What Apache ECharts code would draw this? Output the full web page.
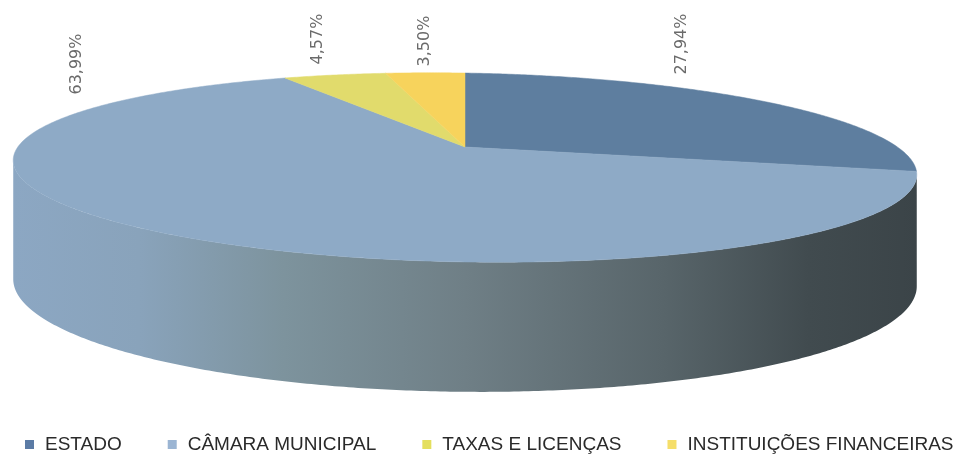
<!DOCTYPE html>
<html>
<head>
<meta charset="utf-8">
<script src="https://cdn.jsdelivr.net/npm/echarts@6/dist/echarts.min.js"></script>
<style>
  html, body { margin: 0; padding: 0; background: #fff; }
  #chart { width: 954px; height: 463px; }
</style>
</head>
<body>
<div id="chart"></div>
<script>
// slices, clockwise from 12 o'clock
const categories = ['ESTADO', 'CÂMARA MUNICIPAL', 'TAXAS E LICENÇAS', 'INSTITUIÇÕES FINANCEIRAS'];
const shares = [27.94, 63.99, 4.57, 3.50];

// colours of the top faces and of the legend keys
const topColors = ['#5e7e9f', '#8eaac6', '#e1db6c', '#f7d35c'];
const keyColors = ['#5b7ba5', '#9bb5d3', '#e4df5e', '#f5de6a'];

// where the rotated value labels sit (centre of the text)
const labelCenters = [[682, 44], [77, 64], [318, 39], [425, 41]];

// fake 3d pie: a circle put through a simple perspective
const pie = {
    cx: 465, cy: 147, rx: 441, ry: 90, persp: 0.217, roll: 7,
    bottomCy: 259, bottomRy: 104, bottomRoll: 3.5
};

const total = shares.reduce((s, v) => s + v, 0);
const starts = [];
shares.reduce((acc, v, i) => { starts[i] = acc; return acc + v; }, 0);

function project(a, bottom) {
    const X = Math.sin(a), Z = Math.cos(a);
    const w = 1 + pie.persp * Z;
    const x = pie.cx + pie.rx * X / w;
    if (bottom) {
        return [x, pie.bottomCy - pie.bottomRy * Z / w + pie.bottomRoll * X / w];
    }
    return [x, pie.cy - pie.ry * Z / w + pie.roll * X / w];
}

function arc(a0, a1, bottom) {
    const pts = [];
    const n = Math.max(2, Math.ceil(Math.abs(a1 - a0) / (Math.PI / 360)));
    for (let k = 0; k <= n; k++) {
        pts.push(project(a0 + (a1 - a0) * k / n, bottom));
    }
    return pts;
}

// visible part of the side wall (between the two silhouette points)
const wallFrom = Math.acos(-pie.persp);
const wallTo = 2 * Math.PI - wallFrom;

const wallFill = {
    type: 'linear', x: 0, y: 0, x2: 1, y2: 0,
    colorStops: [
        {offset: 0, color: '#8ca7c3'},
        {offset: 0.14, color: '#89a3bb'},
        {offset: 0.3, color: '#7d939d'},
        {offset: 0.5, color: '#6f7f86'},
        {offset: 0.72, color: '#58656a'},
        {offset: 0.88, color: '#414b4f'},
        {offset: 1, color: '#3b4448'}
    ]
};

function makeRender(i) {
    return function (params, api) {
        const v = api.value(0);
        const a0 = starts[i] / total * 2 * Math.PI;
        const a1 = a0 + v / total * 2 * Math.PI;
        const children = [];

        const s = Math.max(a0, wallFrom), e = Math.min(a1, wallTo);
        if (e > s) {
            const pts = arc(s, e, false).concat(arc(e, s, true));
            children.push({
                type: 'polygon',
                shape: {points: pts},
                style: {fill: wallFill, stroke: null}
            });
        }

        const top = [[pie.cx, pie.cy]].concat(arc(a0, a1, false));
        children.push({
            type: 'polygon',
            shape: {points: top},
            style: {fill: topColors[i], stroke: topColors[i], lineWidth: 0.5}
        });

        const c = labelCenters[i];
        children.push({
            type: 'text',
            x: c[0], y: c[1],
            rotation: Math.PI / 2,
            style: {
                text: v.toFixed(2).replace('.', ',') + '%',
                fill: '#6a6a6a',
                fontSize: 16,
                fontFamily: 'DejaVu Sans',
                align: 'center',
                verticalAlign: 'middle'
            }
        });

        return {type: 'group', children: children};
    };
}

const chart = echarts.init(document.getElementById('chart'));

const option = {
    animation: false,
    legend: {
        data: categories,
        left: 25,
        top: 435,
        padding: 0,
        icon: 'rect',
        itemWidth: 9,
        itemHeight: 9,
        itemGap: 46,
        textStyle: {
            fontFamily: 'Liberation Sans',
            fontSize: 19,
            color: '#2a2a2a',
            padding: [0, 0, 0, 6]
        }
    },
    series: categories.map((name, i) => ({
        name: name,
        type: 'custom',
        coordinateSystem: 'none',
        itemStyle: {color: keyColors[i]},
        renderItem: makeRender(i),
        data: [[shares[i]]]
    }))
};

chart.setOption(option);
</script>
</body>
</html>
